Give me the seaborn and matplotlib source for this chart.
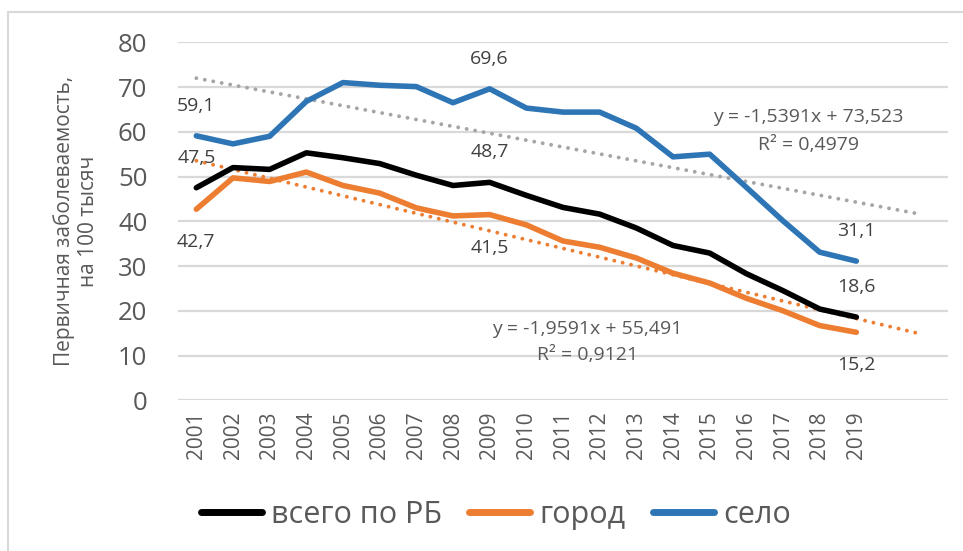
import numpy as np
import pandas as pd
import matplotlib
matplotlib.use("Agg")
import matplotlib.pyplot as plt
import seaborn as sns
from matplotlib.lines import Line2D

# ---------------- data ----------------
years = [str(y) for y in range(2001, 2020)]
total = [47.5, 52.0, 51.6, 55.3, 54.2, 52.9, 50.3, 48.0, 48.7, 45.8, 43.1, 41.6,
         38.5, 34.6, 32.9, 28.3, 24.5, 20.4, 18.6]
city = [42.7, 49.7, 48.9, 51.0, 48.0, 46.3, 43.0, 41.2, 41.5, 39.2, 35.6, 34.2,
        31.8, 28.4, 26.2, 22.8, 20.0, 16.7, 15.2]
rural = [59.1, 57.3, 59.0, 66.8, 71.0, 70.4, 70.1, 66.5, 69.6, 65.3, 64.4, 64.4,
         60.8, 54.4, 55.0, 47.6, 40.1, 33.1, 31.1]
series_names = ["всего по РБ", "город", "село"]
# linear trend coefficients (slope, intercept) shown in the chart
trend_rural = (-1.5391, 73.523)
trend_city = (-1.9591, 55.491)
r2_rural = "0,4979"
r2_city = "0,9121"
label_years_idx = [0, 8, 18]

# ---------------- style ----------------
sns.set_theme(style="white")
plt.rcParams["font.family"] = ["Open Sans", "DejaVu Sans"]
TXT = "#595959"
colors = {"всего по РБ": "#000000", "город": "#ED7D31", "село": "#2E75B6"}

x = np.arange(1, len(years) + 1)
df = pd.DataFrame({
    "x": np.tile(x, 3),
    "value": total + city + rural,
    "series": np.repeat(series_names, len(years)),
})

fig = plt.figure(figsize=(9.63, 5.51), dpi=100)
ax = fig.add_axes([178 / 963, 1 - 400.3 / 551, (948 - 178) / 963, (400.3 - 42.3) / 551])

ax.set_ylim(0, 80)
ax.set_xlim(0.5, 21.5)
ax.set_yticks(np.arange(0, 81, 10))
ax.yaxis.grid(True, color="#D9D9D9", lw=1.6)
ax.set_axisbelow(True)
for s in ax.spines.values():
    s.set_visible(False)

# trend lines (extended forward)
xt = np.linspace(1, 20.8, 50)
dot = (0, (0.01, 2.2))
ax.plot(xt, trend_rural[0] * xt + trend_rural[1], color="#A5A5A5", lw=2.8,
        linestyle=dot, dash_capstyle="round", zorder=2)
ax.plot(xt, trend_city[0] * xt + trend_city[1], color="#ED7D31", lw=2.8,
        linestyle=dot, dash_capstyle="round", zorder=2)

sns.lineplot(data=df, x="x", y="value", hue="series", palette=colors, lw=4.0,
             ax=ax, legend=False, zorder=3, solid_capstyle="round", solid_joinstyle="round")
ax.lines[-3].set_zorder(4)

ax.set_xticks(x)
ax.set_xticklabels(years, rotation=90, fontsize=15, color=TXT)
ax.tick_params(axis="y", labelsize=18.5, labelcolor=TXT, pad=22)
ax.tick_params(axis="x", pad=8)
ax.tick_params(length=0)
ax.set_xlabel("")
ax.set_ylabel("")

fig.text(76 / 963, 1 - 221 / 551, "Первичная заболеваемость,\nна 100 тысяч", rotation=90,
         ha="center", va="center", fontsize=15, color=TXT, linespacing=1.15)

def fmt(v):
    return f"{v:.1f}".replace(".", ",")

LBL = 14
for i in label_years_idx:
    ax.annotate(fmt(rural[i]), (x[i], rural[i]), xytext=(0, 30), textcoords="offset pixels",
                ha="center", va="center", fontsize=LBL, color="#404040")
    ax.annotate(fmt(total[i]), (x[i], total[i]), xytext=(0, 30), textcoords="offset pixels",
                ha="center", va="center", fontsize=LBL, color="#404040")
    ax.annotate(fmt(city[i]), (x[i], city[i]), xytext=(0, -33), textcoords="offset pixels",
                ha="center", va="center", fontsize=LBL, color="#404040")

def eq(coef):
    s = f"{abs(coef[0]):.4f}".replace(".", ",")
    b = f"{coef[1]:.3f}".replace(".", ",")
    return f"y = -{s}x + {b}"

EQ = 14
ax.text(17.7, 63.3, eq(trend_rural), ha="center", va="center", fontsize=EQ, color=TXT)
ax.text(17.7, 57.1, f"R² = {r2_rural}", ha="center", va="center", fontsize=EQ, color=TXT)
ax.text(11.66, 15.9, eq(trend_city), ha="center", va="center", fontsize=EQ, color=TXT)
ax.text(11.66, 10.1, f"R² = {r2_city}", ha="center", va="center", fontsize=EQ, color=TXT)

handles = [Line2D([0], [0], color=colors[n], lw=5, solid_capstyle="round") for n in series_names]
fig.legend(handles, series_names, loc="center", bbox_to_anchor=(0.515, 1 - 515 / 551), ncol=3,
           frameon=False, fontsize=22, labelcolor=TXT, handlelength=2.0, handletextpad=0.3,
           columnspacing=0.9)

fig.add_artist(Line2D([8 / 963, 1], [1 - 12 / 551, 1 - 12 / 551], color="#D9D9D9", lw=1.5,
                      transform=fig.transFigure))
fig.add_artist(Line2D([8 / 963, 8 / 963], [1 - 12 / 551, 0], color="#D9D9D9", lw=1.5,
                      transform=fig.transFigure))

fig.savefig("out.png", dpi=100)
